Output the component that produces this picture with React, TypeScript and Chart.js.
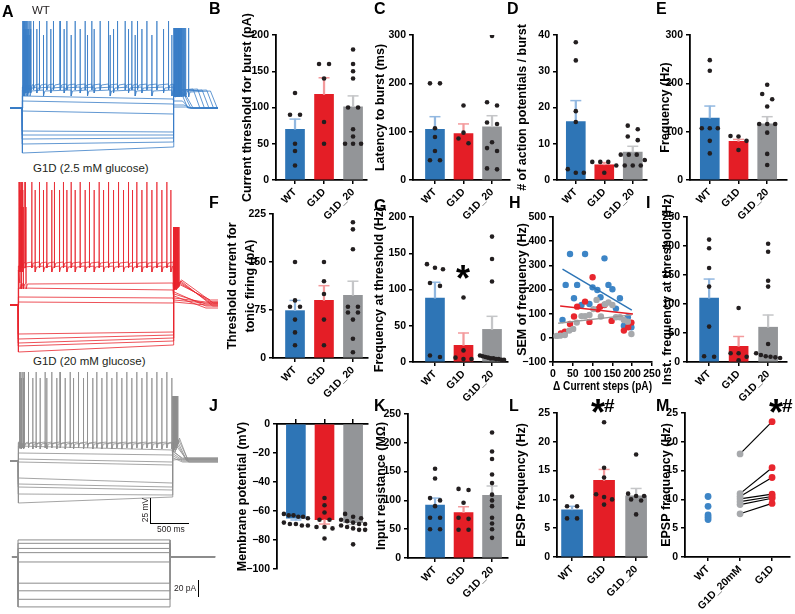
import React, { useEffect, useRef } from "react";
import { Chart, registerables } from "chart.js";
Chart.register(...registerables);

const FONT = '"Liberation Sans", Arial, Helvetica, sans-serif';
const INK = "#231F20";
const BLUE = "#2E75B6";
const RED = "#E41E26";
const GRAY = "#939598";
const BLUE_ERR = "#92B8E0";
const RED_ERR = "#F39A9C";
const GRAY_ERR = "#C5C6C8";
const TRACE_BLUE = "#3A7EC6";
const TRACE_RED = "#E8262E";
const TRACE_GRAY = "#8E8E8E";
const DOT_BLUE = "#3D85C6";
const DOT_RED = "#E8262E";
const DOT_GRAY = "#A7A9AC";

const GROUPS = ["WT", "G1D", "G1D_20"];
const M_GROUPS = ["WT", "G1D_20mM", "G1D"];

// ---------- B: current threshold for burst (pA)
const B_MEAN = [70, 118, 101];
const B_SEM = [14, 23, 15];
const B_WT = [120, 90, 90, 50, 40, 20];
const B_G1D = [160, 160, 140, 80, 50];
const B_G1D20 = [180, 160, 150, 140, 100, 100, 70, 60, 50, 50, 50];

// ---------- C: latency to burst (ms)
const C_MEAN = [105, 96, 110];
const C_SEM = [26, 20, 23];
const C_WT = [200, 200, 107, 89, 60, 41, 41];
const C_G1D = [154, 98, 86, 76];
const C_G1D20 = [298, 161, 154, 119, 116, 78, 66, 60, 24, 22];

// ---------- D: # of action potentials / burst
const D_MEAN = [16.1, 4.2, 7.7];
const D_SEM = [5.8, 0.6, 1.6];
const D_WT = [38, 33, 19, 16, 3, 2, 2];
const D_G1D = [5, 5, 5, 4, 2];
const D_G1D20 = [15, 14, 12, 11, 7, 7, 7, 5.5, 4, 4, 4];

// ---------- E: frequency (Hz)
const E_MEAN = [128, 80, 116];
const E_SEM = [25, 4, 15];
const E_WT = [248, 226, 107, 107, 107, 81, 55];
const E_G1D = [91, 90, 81, 62];
const E_G1D20 = [197, 178, 167, 152, 116, 116, 116, 98, 54, 31];

// ---------- F: threshold current for tonic firing (pA)
const F_MEAN = [74, 90, 98];
const F_SEM = [16, 23, 22];
const F_WT = [150, 90, 80, 80, 60, 40, 20];
const F_G1D = [150, 120, 100, 60, 20];
const F_G1D20 = [212, 201, 170, 80, 80, 71, 71, 60, 30, 9];

// ---------- G: frequency at threshold (Hz)
const G_MEAN = [88, 23, 45];
const G_SEM = [22, 17, 18];
const G_WT = [135, 130, 128, 109, 105, 9, 7];
const G_G1D = [89, 16, 6, 4, 4];
const G_G1D20 = [173, 142, 111, 9, 8, 7, 6, 5, 5, 4, 4, 3, 3];

// ---------- H: SEM of frequency vs current steps
const H_BLUE_X = [24, 32, 43, 53, 61, 72, 81, 92, 100, 112, 120, 130, 140, 150, 159, 169, 179, 189, 198];
const H_BLUE_Y = [74, 219, 347, 164, 219, 136, 347, 140, 209, 198, 168, 329, 219, 201, 121, 164, 50, 85, 44];
const H_RED_X = [20, 30, 43, 53, 61, 81, 92, 100, 113, 119, 130, 148, 179, 190, 198];
const H_RED_Y = [18, 25, 57, 88, 129, 150, 66, 251, 118, 129, 136, 70, 30, 44, 63];
const H_GRAY_X = [9, 18, 30, 41, 51, 60, 72, 81, 92, 102, 110, 121, 131, 140, 150, 159, 169, 179, 189, 198];
const H_GRAY_Y = [8, 9, 12, 30, 37, 63, 90, 90, 95, 119, 157, 88, 139, 146, 136, 85, 85, 74, 67, 16];
const H_BLUE_FIT = [[24, 284], [199, 115]];
const H_RED_FIT = [[18, 132], [202, 99]];
const H_GRAY_FIT = [[13, 60], [199, 95]];

// ---------- I: inst. frequency at threshold (Hz)
const I_MEAN = [110, 27, 60];
const I_SEM = [33, 17, 21];
const I_WT = [211, 196, 162, 130, 61, 10, 9];
const I_G1D = [93, 15, 15, 9, 3];
const I_G1D20 = [204, 190, 140, 130, 31, 15, 12, 10, 9, 8, 7];

// ---------- J: membrane potential (mV)
const J_MEAN = [-65, -66, -68];
const J_SEM = [1.2, 3, 1.3];
const J_WT = [-62, -63, -63, -64, -64, -65, -68, -69, -69, -70, -70];
const J_G1D = [-51, -56, -61, -66, -66, -71, -71, -72, -79];
const J_G1D20 = [-62, -64, -65, -66, -67, -68, -69, -69, -70, -71, -72, -73, -73, -83];

// ---------- K: input resistance (MOhm)
const K_MEAN = [92, 79, 109];
const K_SEM = [12, 10, 16];
const K_WT = [155, 138, 104, 100, 90, 70, 70, 50, 50];
const K_G1D = [120, 118, 96, 70, 68, 49, 49];
const K_G1D20 = [218, 185, 172, 145, 130, 110, 100, 90, 70, 60, 50, 35];

// ---------- L: EPSP frequency (Hz)
const L_MEAN = [8.2, 13.3, 10.6];
const L_SEM = [0.6, 1.9, 1.3];
const L_WT = [10.5, 8.8, 8.8, 6.7, 6.7];
const L_G1D = [23.4, 15.5, 13.8, 10.9, 10.4, 10, 9.1];
const L_G1D20 = [17.8, 11, 10.6, 10.6, 10, 9.8, 7.4];

// ---------- M: paired EPSP frequency (Hz)
const M_WT = [10.5, 8.8, 7.3, 6.9, 6.5];
const M_G1D20 = [17.9, 11, 10.5, 10.1, 9.6, 9.1, 7.5];
const M_G1D = [23.5, 15.5, 13.8, 10.9, 10.5, 10.2, 9.3];

// ---------- A: voltage traces (time ms, membrane potential mV)
const WT_STEP = [159, 2156];
const WT_ONSET = [-41, -44, -47, -53, -58, -68, -88, -92, -96, -101, -110];
const WT_LEVEL = [-41, -44, -47, -56, -61, -71, -89, -92, -95, -99, -104];
const WT_PEAK = [22, 14, 8, 0, 0, 0, 0, 0, 0, 0, 0];
const WT_SPIKES = [
  [168, 176, 185, 195, 206, 219, 234, 252, 274, 309, 388, 485, 573, 661, 750, 860, 992, 1080, 1190, 1301, 1420, 1521, 1609, 1684, 1808, 1940, 2094],
  [172, 182, 194, 208, 225, 246, 272, 353, 538, 714, 926, 1111, 1367, 1565, 1742, 2028],
  [178, 192, 210, 232, 262, 441, 807, 1023, 1323, 1653, 1874, 2138],
  [], [], [], [], [], [], [], [],
];
const WT_POST = [-49, -51, -53, -58, -62, -64, -46, -46, -47, -47, -48];
const WT_HOLD = [2260, 2300, 2330, 2280, 2300, 2320, 2420, 2480, 2540, 2600, 2650];
const WT_FINAL = [-65, -65, -65, -65, -65, -65, -65, -65, -65, -65, -65];
const WT_REBOUND = [
  [], [], [], [], [], [],
  [2190, 2215, 2250],
  [2180, 2196, 2218, 2248],
  [2175, 2188, 2204, 2224, 2250, 2285],
  [2170, 2180, 2192, 2206, 2222, 2242, 2268, 2300],
  [2165, 2172, 2180, 2189, 2199, 2211, 2225, 2241, 2260, 2285, 2320, 2360],
];

const G1D_STEP = [106, 2156];
const G1D_ONSET = [-22, -26, -30, -48, -57, -62, -94, -99, -103, -106, -112];
const G1D_LEVEL = [-22, -26, -43, -50, -58, -63, -92, -95, -98, -101, -105];
const G1D_PEAK = [58, 50, 33, 0, 0, 0, 0, 0, 0, 0, 0];
const G1D_SPIKES = [
  [118, 130, 145, 165, 198, 287, 388, 485, 586, 705, 807, 926, 1049, 1177, 1301, 1433, 1565, 1675, 1808, 1940, 2072],
  [125, 142, 168, 331, 441, 551, 653, 750, 860, 992, 1111, 1235, 1367, 1499, 1618, 1742, 1874, 2006, 2125],
  [130, 150, 175, 210],
  [], [], [], [], [], [], [], [],
];
const G1D_POST = [-52, -54, -56, -58, -60, -62, -44, -43, -42, -41, -40];
const G1D_HOLD = [2170, 2170, 2170, 2170, 2170, 2170, 2230, 2240, 2250, 2260, 2270];
const G1D_FINAL = [-66, -64, -68, -62, -63, -65, -60, -62, -64, -66, -63];
const G1D_REBOUND = [
  [], [], [], [], [], [],
  [2175, 2195],
  [2170, 2186, 2206],
  [2168, 2181, 2197, 2218],
  [2166, 2177, 2190, 2207, 2230],
  [2163, 2172, 2183, 2196, 2212, 2232],
];

const G20_STEP = [106, 2143];
const G20_ONSET = [-46, -47, -50, -57, -63, -66, -82, -88, -91, -98, -107];
const G20_LEVEL = [-46, -47, -54, -59, -66, -69, -87, -91, -94, -99, -101];
const G20_PEAK = [24, 18, 0, 0, 0, 0, 0, 0, 0, 0, 0];
const G20_SPIKES = [
  [125, 140, 160, 185, 243, 344, 463, 551, 661, 794, 904, 1023, 1146, 1279, 1411, 1543, 1675, 1808, 1940, 2072],
  [130, 150, 178, 300, 397, 485, 617, 728, 838, 970, 1093, 1213, 1345, 1477, 1609, 1742, 1874, 2006, 2138],
  [], [], [], [], [], [], [], [], [],
];
const G20_POST = [-55, -56, -58, -60, -62, -64, -50, -48, -46, -44, -42];
const G20_HOLD = [2160, 2160, 2160, 2160, 2160, 2160, 2200, 2210, 2220, 2230, 2240];
const G20_FINAL = [-63, -62, -64, -65, -66, -63, -62, -64, -65, -63, -66];
const G20_REBOUND = [
  [], [], [], [], [], [],
  [2160, 2180],
  [2158, 2172, 2192],
  [2156, 2168, 2183, 2202],
  [2155, 2165, 2177, 2192, 2210],
  [2153, 2162, 2172, 2184, 2199, 2218],
];

// current step protocol (pA)
const PROTO_LEVELS = [20, 16, 10, 5, -6, -31, -40, -50, -59];
const PROTO_TIMES = [26, 106, 2116, 2712];

// ================= helpers =================
const tickFont = { family: FONT, size: 10.5, weight: "bold" };
const titleFont = (lh = 1.2) => ({ family: FONT, size: 12.5, weight: "bold", lineHeight: lh });
const axisGrid = (tl = 4) => ({
  display: true,
  drawOnChartArea: false,
  drawTicks: true,
  tickLength: tl,
  color: "#000",
  lineWidth: 1.5,
  offset: false,
});
const axisBorder = { display: true, color: "#000", width: 1.8 };
const fmt = (v: number) => (v < 0 ? "\u2212" + Math.abs(v) : String(v));
const baseOpts = (padding: any) => ({
  responsive: false,
  animation: false,
  devicePixelRatio: 1,
  events: [],
  layout: { padding },
  plugins: { legend: { display: false }, tooltip: { enabled: false }, title: { display: false } },
});

function ChartCanvas({ left, top, width, height, make }: any) {
  const ref = useRef<HTMLCanvasElement>(null);
  useEffect(() => {
    const c = new Chart(ref.current as HTMLCanvasElement, make());
    return () => c.destroy();
  }, []);
  return (
    <canvas
      ref={ref}
      width={width}
      height={height}
      style={{ position: "absolute", left, top, width, height }}
    />
  );
}

function swarm(vals: number[], center: number, tol: number, pxX: number) {
  const sorted = [...vals].sort((a, b) => b - a);
  const out: { x: number; y: number }[] = [];
  let i = 0;
  while (i < sorted.length) {
    let j = i;
    while (j + 1 < sorted.length && sorted[i] - sorted[j + 1] < tol) j++;
    const n = j - i + 1;
    const spPx = n === 2 ? 10 : 8;
    const sp = n > 1 ? Math.min(spPx, 24 / (n - 1)) / pxX : 0;
    for (let k = 0; k < n; k++) out.push({ x: center + (k - (n - 1) / 2) * sp, y: sorted[i + k] });
    i = j + 1;
  }
  return out;
}

type BarSpec = {
  ax: number; xe: number; yt: number; yb: number; tc: number;
  ymin: number; ymax: number; step: number; xmin: number; xmax: number;
  title: any; means: number[]; sems: number[]; dots: number[][];
  barW?: number; lh?: number; neg?: boolean;
};

function BarPanel({ s }: { s: BarSpec }) {
  const lhMul = s.lh ?? 1.2;
  const lh = 12.5 * lhMul;
  const yW = Math.round(s.ax - s.tc + lh / 2);
  const padT = 34, padR = 14;
  const padB = s.neg ? 12 : 0;
  const topH = s.neg ? 6 : 0;
  const botH = s.neg ? 0 : 40;
  const left = s.ax - yW;
  const top = s.yt - padT - topH;
  const width = yW + (s.xe - s.ax) + padR;
  const height = padT + topH + (s.yb - s.yt) + botH + padB;
  const pxY = (s.yb - s.yt) / (s.ymax - s.ymin);
  const pxX = (s.xe - s.ax) / (s.xmax - s.xmin);
  const make = () => {
    const dots = s.dots.flatMap((v, i) => swarm(v, i, 5.5 / pxY, pxX));
    const sign = s.neg ? -1 : 1;
    const caps = s.means.map((m, i) => ({ x: i, y: m + sign * s.sems[i] }));
    const stems = s.means.map((m, i) => ({ x: i, y: s.neg ? [m - s.sems[i], m] : [m, m + s.sems[i]] }));
    const bars = s.means.map((m, i) => ({ x: i, y: m }));
    return {
      type: "bar",
      data: {
        datasets: [
          { type: "line", data: dots, showLine: false, pointRadius: 2.3, pointBackgroundColor: INK, pointBorderWidth: 0, order: 0 },
          { type: "line", data: caps, showLine: false, pointStyle: "line", pointRadius: 5.5, pointBorderColor: [BLUE_ERR, RED_ERR, GRAY_ERR], pointBorderWidth: 1.5, order: 1 },
          { type: "bar", data: stems, backgroundColor: [BLUE_ERR, RED_ERR, GRAY_ERR], barThickness: 1.6, grouped: false, borderWidth: 0, order: 2 },
          { type: "bar", data: bars, backgroundColor: [BLUE, RED, GRAY], barThickness: s.barW ?? 19, grouped: false, borderWidth: 0, order: 3 },
        ],
      },
      options: {
        ...baseOpts({ top: padT, right: padR, left: 0, bottom: padB }),
        scales: {
          x: {
            type: "linear",
            position: s.neg ? "top" : "bottom",
            min: s.xmin,
            max: s.xmax,
            offset: false,
            afterBuildTicks: (sc: any) => { sc.ticks = [0, 1, 2].map((v) => ({ value: v })); },
            afterFit: (sc: any) => { sc.height = s.neg ? topH : botH; },
            grid: axisGrid(s.neg ? 5 : 4),
            border: axisBorder,
            ticks: {
              display: !s.neg,
              autoSkip: false,
              maxRotation: 45,
              minRotation: 45,
              padding: 2,
              color: "#000",
              font: tickFont,
              callback: (v: any) => GROUPS[v],
            },
          },
          y: {
            type: "linear",
            min: s.ymin,
            max: s.ymax,
            afterFit: (sc: any) => { sc.width = yW; },
            grid: axisGrid(4),
            border: axisBorder,
            ticks: { stepSize: s.step, autoSkip: false, padding: 3, color: "#000", font: tickFont, callback: (v: any) => fmt(v) },
            title: { display: true, text: s.title, color: "#000", font: titleFont(lhMul), padding: 0 },
          },
        },
      },
    };
  };
  return <ChartCanvas left={left} top={top} width={width} height={height} make={make} />;
}

function HPanel() {
  const ax = 553, xe = 652, yt = 217, yb = 362, tc = 523;
  const yW = Math.round(ax - tc + 7.5);
  const padT = 34, padR = 14, xH = 34;
  const make = () => {
    const pts = (xs: number[], ys: number[]) => xs.map((x, i) => ({ x, y: ys[i] }));
    const fit = (f: number[][]) => f.map(([x, y]) => ({ x, y }));
    const dot = (data: any, c: string) => ({ type: "scatter", data, showLine: false, pointRadius: 3.2, pointBackgroundColor: c, pointBorderWidth: 0, order: 2 });
    const line = (data: any, c: string) => ({ type: "line", data, showLine: true, borderColor: c, borderWidth: 1.5, pointRadius: 0, order: 1 });
    return {
      type: "scatter",
      data: {
        datasets: [
          line(fit(H_BLUE_FIT), BLUE),
          line(fit(H_RED_FIT), RED),
          line(fit(H_GRAY_FIT), "#9A9A9A"),
          dot(pts(H_GRAY_X, H_GRAY_Y), DOT_GRAY),
          dot(pts(H_RED_X, H_RED_Y), DOT_RED),
          dot(pts(H_BLUE_X, H_BLUE_Y), DOT_BLUE),
        ],
      },
      options: {
        ...baseOpts({ top: padT, right: padR, left: 0, bottom: 0 }),
        scales: {
          x: {
            type: "linear", min: 0, max: 250,
            afterFit: (sc: any) => { sc.height = xH; },
            grid: axisGrid(4), border: axisBorder,
            ticks: { stepSize: 50, maxRotation: 0, autoSkip: false, padding: 2, color: "#000", font: tickFont },
            title: { display: true, text: "\u0394 Current steps (pA)", color: "#000", font: titleFont(), padding: { top: 0, bottom: 2 } },
          },
          y: {
            type: "linear", min: -100, max: 500,
            afterFit: (sc: any) => { sc.width = yW; },
            grid: axisGrid(4), border: axisBorder,
            ticks: { stepSize: 100, autoSkip: false, padding: 3, color: "#000", font: tickFont, callback: (v: any) => fmt(v) },
            title: { display: true, text: "SEM of frequency (Hz)", color: "#000", font: titleFont(), padding: 0 },
          },
        },
      },
    };
  };
  return <ChartCanvas left={ax - yW} top={yt - padT} width={yW + (xe - ax) + padR} height={padT + (yb - yt) + xH} make={make} />;
}

function MPanel() {
  const ax = 685, xe = 790, yt = 413, yb = 557, tc = 667;
  const yW = Math.round(ax - tc + 7.5);
  const padT = 34, padR = 10, xH = 56;
  const make = () => {
    const pairs = M_G1D20.map((g, i) => ({
      type: "line", data: [{ x: 1, y: g }, { x: 2, y: M_G1D[i] }], borderColor: "#000", borderWidth: 1.2, pointRadius: 0, order: 2,
    }));
    const dot = (x: number, vals: number[], c: string) => ({
      type: "line", data: vals.map((y) => ({ x, y })), showLine: false, pointRadius: 3.4, pointBackgroundColor: c, pointBorderWidth: 0, order: 1,
    });
    return {
      type: "scatter",
      data: { datasets: [...pairs, dot(0, M_WT, DOT_BLUE), dot(1, M_G1D20, DOT_GRAY), dot(2, M_G1D, DOT_RED)] },
      options: {
        ...baseOpts({ top: padT, right: padR, left: 0, bottom: 0 }),
        scales: {
          x: {
            type: "linear", min: -0.72, max: 2.56, offset: false,
            afterBuildTicks: (sc: any) => { sc.ticks = [0, 1, 2].map((v) => ({ value: v })); },
            afterFit: (sc: any) => { sc.height = xH; },
            grid: axisGrid(4), border: axisBorder,
            ticks: { autoSkip: false, maxRotation: 45, minRotation: 45, padding: 2, color: "#000", font: tickFont, callback: (v: any) => M_GROUPS[v] },
          },
          y: {
            type: "linear", min: 0, max: 25,
            afterFit: (sc: any) => { sc.width = yW; },
            grid: axisGrid(4), border: axisBorder,
            ticks: { stepSize: 5, autoSkip: false, padding: 3, color: "#000", font: tickFont },
            title: { display: true, text: "EPSP frequency (Hz)", color: "#000", font: titleFont(), padding: 0 },
          },
        },
      },
    };
  };
  return <ChartCanvas left={ax - yW} top={yt - padT} width={yW + (xe - ax) + padR} height={padT + (yb - yt) + xH} make={make} />;
}

type Pt = { x: number; y: number };
function spikePts(pts: Pt[], times: number[], lvl: number, peak: number) {
  times.forEach((t, k) => {
    const next = k + 1 < times.length ? times[k + 1] : t + 40;
    pts.push({ x: t, y: lvl }, { x: t + 1, y: peak }, { x: t + 3, y: lvl - 6 }, { x: Math.min(t + 20, next - 0.5), y: lvl - 1 });
  });
}

function buildSweeps(g: any) {
  return g.level.map((lvl: number, i: number) => {
    const pts: Pt[] = [{ x: 0, y: g.base }, { x: g.step[0], y: g.base }, { x: g.step[0] + 5, y: g.onset[i] }];
    spikePts(pts, g.spikes[i], lvl, g.peak[i]);
    pts.push({ x: g.step[1], y: lvl }, { x: g.step[1] + 6, y: g.post[i] });
    spikePts(pts, g.rebound[i], g.post[i], g.rebPeak);
    pts.push({ x: g.hold[i], y: g.post[i] }, { x: g.hold[i] + g.decay, y: g.final[i] }, { x: 2750, y: g.final[i] });
    return pts;
  });
}

function TracePanel({ left, top, width, height, ymin, ymax, sweeps, color, xmax = 2750, lw = 0.8 }: any) {
  const make = () => ({
    type: "line",
    data: {
      datasets: sweeps().map((d: Pt[]) => ({ data: d, borderColor: color, borderWidth: lw, pointRadius: 0, fill: false, tension: 0 })),
    },
    options: {
      ...baseOpts(0),
      scales: {
        x: { type: "linear", min: 0, max: xmax, display: false },
        y: { type: "linear", min: ymin, max: ymax, display: false },
      },
    },
  });
  return <ChartCanvas left={left} top={top} width={width} height={height} make={make} />;
}

const wtSweeps = () =>
  buildSweeps({ base: -65, step: WT_STEP, onset: WT_ONSET, level: WT_LEVEL, peak: WT_PEAK, spikes: WT_SPIKES, post: WT_POST, hold: WT_HOLD, decay: 90, final: WT_FINAL, rebound: WT_REBOUND, rebPeak: 15 });
const g1dSweeps = () =>
  buildSweeps({ base: -65, step: G1D_STEP, onset: G1D_ONSET, level: G1D_LEVEL, peak: G1D_PEAK, spikes: G1D_SPIKES, post: G1D_POST, hold: G1D_HOLD, decay: 420, final: G1D_FINAL, rebound: G1D_REBOUND, rebPeak: 13 });
const g20Sweeps = () =>
  buildSweeps({ base: -65, step: G20_STEP, onset: G20_ONSET, level: G20_LEVEL, peak: G20_PEAK, spikes: G20_SPIKES, post: G20_POST, hold: G20_HOLD, decay: 120, final: G20_FINAL, rebound: G20_REBOUND, rebPeak: 0 });
const protoSweeps = () =>
  PROTO_LEVELS.map((L) => [
    { x: PROTO_TIMES[0], y: 0 }, { x: PROTO_TIMES[1], y: 0 }, { x: PROTO_TIMES[1], y: L },
    { x: PROTO_TIMES[2], y: L }, { x: PROTO_TIMES[2], y: 0 }, { x: PROTO_TIMES[3], y: 0 },
  ]);

const SPECS: BarSpec[] = [
  { ax: 276, xe: 367, yt: 35, yb: 180, tc: 247.5, ymin: 0, ymax: 200, step: 50, xmin: -0.655, xmax: 2.48, title: "Current threshold for burst (pA)", means: B_MEAN, sems: B_SEM, dots: [B_WT, B_G1D, B_G1D20] },
  { ax: 413, xe: 510, yt: 35, yb: 180, tc: 381, ymin: 0, ymax: 300, step: 100, xmin: -0.77, xmax: 2.63, title: "Latency to burst (ms)", means: C_MEAN, sems: C_SEM, dots: [C_WT, C_G1D, C_G1D20] },
  { ax: 557, xe: 647, yt: 35, yb: 180, tc: 523, ymin: 0, ymax: 40, step: 10, xmin: -0.66, xmax: 2.5, title: "# of action potentials / burst", means: D_MEAN, sems: D_SEM, dots: [D_WT, D_G1D, D_G1D20] },
  { ax: 690, xe: 787, yt: 35, yb: 180, tc: 666, ymin: 0, ymax: 300, step: 100, xmin: -0.69, xmax: 2.69, title: "Frequency (Hz)", means: E_MEAN, sems: E_SEM, dots: [E_WT, E_G1D, E_G1D20] },
  { ax: 273, xe: 368, yt: 214, yb: 358, tc: 233, ymin: 0, ymax: 225, step: 75, xmin: -0.76, xmax: 2.52, title: ["Threshold current for", "tonic firing (pA)"], lh: 1.44, means: F_MEAN, sems: F_SEM, dots: [F_WT, F_G1D, F_G1D20] },
  { ax: 413, xe: 508, yt: 217, yb: 362, tc: 380, ymin: 0, ymax: 200, step: 50, xmin: -0.77, xmax: 2.56, title: "Frequency at threshold (Hz)", means: G_MEAN, sems: G_SEM, dots: [G_WT, G_G1D, G_G1D20] },
  { ax: 687, xe: 787, yt: 217, yb: 362, tc: 668, ymin: 0, ymax: 250, step: 50, xmin: -0.75, xmax: 2.64, title: "Inst. frequency at threshold (Hz)", means: I_MEAN, sems: I_SEM, dots: [I_WT, I_G1D, I_G1D20] },
  { ax: 277, xe: 368, yt: 424, yb: 569, tc: 243, ymin: -100, ymax: 0, step: 20, xmin: -0.66, xmax: 2.52, title: "Membrane potential (mV)", neg: true, means: J_MEAN, sems: J_SEM, dots: [J_WT, J_G1D, J_G1D20] },
  { ax: 408, xe: 508, yt: 414, yb: 558, tc: 382, ymin: 0, ymax: 250, step: 50, xmin: -0.95, xmax: 2.56, title: "Input resistance (M\u03A9)", means: K_MEAN, sems: K_SEM, dots: [K_WT, K_G1D, K_G1D20] },
  { ax: 557, xe: 647, yt: 413, yb: 557, tc: 522, ymin: 0, ymax: 25, step: 5, xmin: -0.47, xmax: 2.34, barW: 21, title: "EPSP frequency (Hz)", means: L_MEAN, sems: L_SEM, dots: [L_WT, L_G1D, L_G1D20] },
];

const LETTERS: [string, number, number][] = [
  ["A", 2, 4], ["B", 209, 1], ["C", 374, 1], ["D", 507, 1], ["E", 656, 1],
  ["F", 209, 195], ["G", 374, 198], ["H", 509, 195], ["I", 646, 195],
  ["J", 209, 398], ["K", 374, 398], ["L", 509, 398], ["M", 656, 398],
];

const abs = (left: number, top: number, extra: any = {}) => ({ position: "absolute" as const, left, top, ...extra });

export default function App() {
  return (
    <div style={{ position: "absolute", left: 0, top: 0, width: 795, height: 614, overflow: "hidden", background: "#fff", fontFamily: FONT }}>
      <TracePanel left={10} top={15} width={208} height={140} ymin={-112} ymax={28} sweeps={wtSweeps} color={TRACE_BLUE} />
      <TracePanel left={10} top={182} width={208} height={173} ymin={-115} ymax={58} sweeps={g1dSweeps} color={TRACE_RED} />
      <TracePanel left={10} top={370} width={208} height={140} ymin={-114} ymax={26} sweeps={g20Sweeps} color={TRACE_GRAY} />
      <TracePanel left={10} top={534} width={208} height={78} ymin={-65} ymax={27} sweeps={protoSweeps} color="#8C8C8C" lw={1} />

      {SPECS.map((s, i) => (
        <BarPanel key={i} s={s} />
      ))}
      <HPanel />
      <MPanel />

      {LETTERS.map(([t, x, y]) => (
        <div key={t} style={abs(x, y, { fontSize: 16, lineHeight: "16px", fontWeight: "bold", color: "#000" })}>{t}</div>
      ))}

      <div style={abs(32, 5, { fontSize: 11.5, lineHeight: "11.5px", color: INK })}>WT</div>
      <div style={abs(33, 163, { fontSize: 11.5, lineHeight: "11.5px", color: INK, whiteSpace: "nowrap" })}>G1D (2.5 mM glucose)</div>
      <div style={abs(33, 356, { fontSize: 11.5, lineHeight: "11.5px", color: INK, whiteSpace: "nowrap" })}>G1D (20 mM glucose)</div>

      {/* scale bars */}
      <div style={abs(150, 498, { width: 38, height: 25, borderLeft: "1.5px solid #000", borderBottom: "1.5px solid #000" })} />
      <div style={abs(145, 510, { fontSize: 8.5, lineHeight: "8.5px", color: INK, whiteSpace: "nowrap", transform: "translate(-50%, -50%) rotate(-90deg)" })}>25 mV</div>
      <div style={abs(157, 525, { fontSize: 8.5, lineHeight: "8.5px", color: INK, whiteSpace: "nowrap" })}>500 ms</div>
      <div style={abs(198, 580, { width: 0, height: 17, borderLeft: "1.6px solid #000" })} />
      <div style={abs(174, 584, { fontSize: 8.5, lineHeight: "8.5px", color: INK, whiteSpace: "nowrap" })}>20 pA</div>

      {/* significance marks */}
      <div style={abs(463, 261, { fontSize: 36, lineHeight: "36px", fontWeight: "bold", transform: "translateX(-50%)" })}>*</div>
      <div style={abs(598, 395, { fontSize: 36, lineHeight: "36px", fontWeight: "bold", transform: "translateX(-50%)" })}>*</div>
      <div style={abs(604, 396, { fontSize: 19, lineHeight: "19px", fontWeight: "bold" })}>#</div>
      <div style={abs(776, 395, { fontSize: 36, lineHeight: "36px", fontWeight: "bold", transform: "translateX(-50%)" })}>*</div>
      <div style={abs(782, 396, { fontSize: 19, lineHeight: "19px", fontWeight: "bold" })}>#</div>
    </div>
  );
}
